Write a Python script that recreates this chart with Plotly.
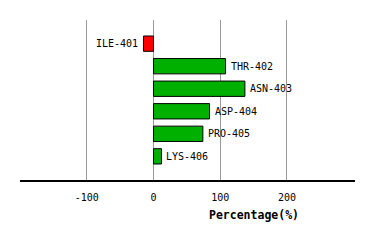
import plotly.graph_objects as go

residues = ["ILE-401", "THR-402", "ASN-403", "ASP-404", "PRO-405", "LYS-406"]
values = [-15, 108, 137, 84, 74, 12]
tick_vals = [-100, 0, 100, 200]
tick_text = ["-100", "0", "100", "200"]

FONT = "DejaVu Sans Mono"
colors = ["#ff0000" if v < 0 else "#00b000" for v in values]
ypos = list(range(len(residues)))

fig = go.Figure()
fig.add_trace(go.Bar(
    x=values, y=ypos, orientation="h", width=0.68,
    marker=dict(color=colors, line=dict(color="black", width=1)),
    hoverinfo="skip",
))
for i, (r, v) in enumerate(zip(residues, values)):
    fig.add_annotation(
        x=v, y=i, text=r, showarrow=False,
        xanchor="right" if v < 0 else "left",
        xshift=-3 if v < 0 else 3,
        font=dict(family=FONT, size=10, color="black"),
    )
fig.add_annotation(
    x=150, y=0, xref="x", yref="paper", yanchor="middle", yshift=-35,
    text="<b>Percentage(%)</b>",
    showarrow=False, font=dict(family=FONT, size=11.5, color="black"),
)
fig.update_layout(
    width=374, height=240,
    margin=dict(l=20, r=19, t=20, b=60),
    plot_bgcolor="white", paper_bgcolor="white",
    showlegend=False,
    xaxis=dict(range=[-200, 302], tickvals=tick_vals, ticktext=tick_text,
               showgrid=True, gridcolor="#999999", gridwidth=1, zeroline=False,
               showline=True, linecolor="black", linewidth=1.5,
               ticks="outside", ticklen=7, tickcolor="rgba(0,0,0,0)",
               tickfont=dict(family=FONT, size=10, color="black")),
    yaxis=dict(range=[6.05, -1.05], showgrid=False, zeroline=False,
               showticklabels=False, showline=False),
)
fig.write_html("out.html")
